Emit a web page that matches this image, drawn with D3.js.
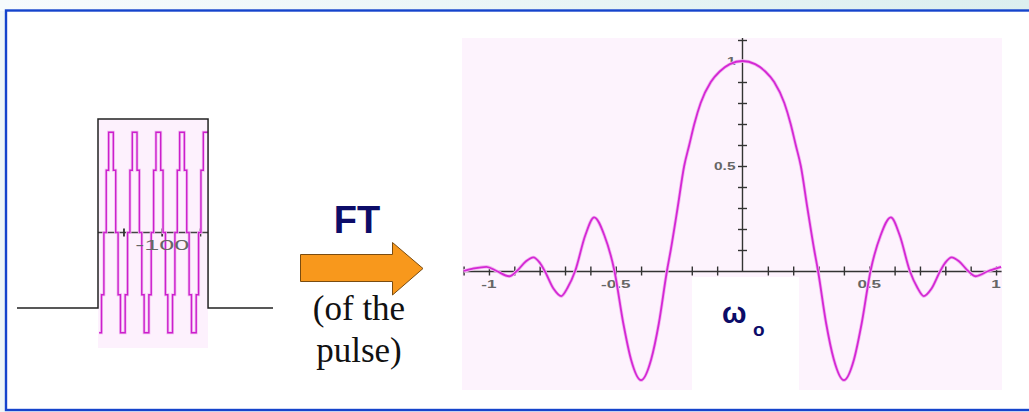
<!DOCTYPE html>
<html>
<head>
<meta charset="utf-8">
<script src="https://cdn.jsdelivr.net/npm/d3@7"></script>
<style>
  body { margin: 0; background: #eef6f8; }
  svg { display: block; }
</style>
</head>
<body>
<div id="chart"></div>
<script>
var width = 1029;
var height = 412;

// spectrum (right panel)
var specX = [-1.10, -1.06, -1.01, -0.97, -0.92, -0.89, -0.855, -0.825, -0.80, -0.78,
             -0.745, -0.715, -0.69, -0.66, -0.62, -0.585, -0.545, -0.505, -0.47, -0.44,
             -0.40, -0.36, -0.33, -0.298, -0.283, -0.256, -0.23, -0.21, -0.19, -0.165,
             -0.125, -0.09, -0.05, 0,
             0.05, 0.09, 0.125, 0.165, 0.19, 0.21, 0.23, 0.256, 0.283, 0.298,
             0.33, 0.36, 0.40, 0.44, 0.47, 0.505, 0.545, 0.585, 0.62, 0.66,
             0.69, 0.715, 0.745, 0.78, 0.80, 0.825, 0.855, 0.89, 0.92, 0.97, 0.995, 1.02];
var specY = [0.00, 0.012, 0.02, 0.00, -0.025, 0.00, 0.045, 0.065, 0.04, 0.00,
             -0.085, -0.12, -0.08, 0.00, 0.17, 0.255, 0.17, 0.00, -0.25, -0.42,
             -0.52, -0.42, -0.25, 0.00, 0.10, 0.30, 0.50, 0.60, 0.70, 0.80,
             0.90, 0.95, 0.985, 1.00,
             0.985, 0.95, 0.90, 0.80, 0.70, 0.60, 0.50, 0.30, 0.10, 0.00,
             -0.25, -0.42, -0.52, -0.42, -0.25, 0.00, 0.17, 0.255, 0.17, 0.00,
             -0.08, -0.12, -0.085, 0.00, 0.04, 0.065, 0.045, 0.00, -0.025, 0.00, 0.01, 0.02];

var xTickVals = [-1.1, -1.0, -0.9, -0.8, -0.7, -0.6, -0.5, -0.4, -0.3, -0.2, -0.1,
                 0.1, 0.2, 0.3, 0.4, 0.5, 0.6, 0.7, 0.8, 0.9, 1.0];
var xTickLabels = [-1, -0.5, 0.5, 1];
var yTickVals = [0.1, 0.2, 0.3, 0.4, 0.5, 0.6, 0.7, 0.8, 0.9, 1.0, 1.1];
var yTickLabels = [0.5, 1];

// pulse (left panel): stepped samples of the carrier inside the window
var pulseSamples = [-0.95, -0.59, 0, 0.59, 0.95, 0.95, 0.59, 0, -0.59, -0.95,
                    -0.95, -0.59, 0, 0.59, 0.95, 0.95, 0.59, 0, -0.59, -0.95,
                    -0.95, -0.59, 0, 0.59, 0.95, 0.95, 0.59, 0, -0.59, -0.95,
                    -0.95, -0.59, 0, 0.59, 0.95, 0.95, 0.59, 0, -0.59, -0.95,
                    -0.95, -0.59, 0, 0.59, 0.95, 0.95];
var pulseTime = [-290, -184, -40, 45];   // baseline start, window start, window end, baseline end
var pulseTicks = [-150, -100, -50];
var pulseTickLabel = "-100";

var svg = d3.select("#chart").append("svg")
    .attr("width", width).attr("height", height);

var defs = svg.append("defs");
var grad = defs.append("linearGradient").attr("id", "topband")
    .attr("x1", "0%").attr("x2", "100%");
grad.append("stop").attr("offset", "0%").attr("stop-color", "#f7fbfd");
grad.append("stop").attr("offset", "100%").attr("stop-color", "#dcefef");

svg.append("rect").attr("x", 0).attr("y", 0).attr("width", width).attr("height", 11)
    .attr("fill", "url(#topband)");

// slide frame
svg.append("rect")
    .attr("x", 6).attr("y", 10.5)
    .attr("width", 1060).attr("height", 399.5)
    .attr("fill", "#ffffff")
    .attr("stroke", "#1544cc")
    .attr("stroke-width", 2.4);

drawPulse();
drawArrow();
drawSpectrum();

function drawPulse() {
    var tx = d3.scaleLinear().domain([-290, 45]).range([17, 273]);
    var lv = d3.scaleLinear().domain([0, 1]).range([308, 119]);
    var sy = d3.scaleLinear().domain([-1, 1]).range([338, 127]);

    var g = svg.append("g");

    g.append("rect")
        .attr("x", tx(pulseTime[1])).attr("y", lv(1))
        .attr("width", tx(pulseTime[2]) - tx(pulseTime[1]))
        .attr("height", 348 - lv(1))
        .attr("fill", "#fdf1fd");

    // inner time axis
    g.append("line")
        .attr("x1", tx(pulseTime[1])).attr("x2", tx(pulseTime[2]))
        .attr("y1", sy(0)).attr("y2", sy(0))
        .style("stroke", "#444").style("stroke-width", 1.5);
    g.selectAll(".ptick").data(pulseTicks).enter().append("line")
        .attr("x1", function(d) { return tx(d); })
        .attr("x2", function(d) { return tx(d); })
        .attr("y1", sy(0) - 4).attr("y2", sy(0) + 4)
        .style("stroke", "#333").style("stroke-width", 1.8);

    // stepped carrier
    var n = pulseSamples.length;
    var sampleT = d3.scaleLinear().domain([0, n]).range([pulseTime[1] + 1.5, pulseTime[2]]);
    var pts = pulseSamples.map(function(v, i) { return [sampleT(i), v]; });
    pts.push([sampleT(n), pulseSamples[n - 1]]);
    var carrier = d3.line()
        .x(function(d) { return tx(d[0]); })
        .y(function(d) { return sy(d[1]); })
        .curve(d3.curveStepAfter);
    g.append("path").datum(pts).attr("d", carrier)
        .attr("fill", "none").style("stroke", "#f2bdf2").style("stroke-width", 3);
    g.append("path").datum(pts).attr("d", carrier)
        .attr("fill", "none").style("stroke", "#cc1fcc").style("stroke-width", 1.4);

    g.append("text")
        .attr("x", tx(-100)).attr("y", 250)
        .attr("text-anchor", "middle")
        .attr("textLength", 54).attr("lengthAdjust", "spacingAndGlyphs")
        .style("font-family", "Liberation Sans, Arial, sans-serif")
        .style("font-size", "14px")
        .style("fill", "#666")
        .text(pulseTickLabel);

    // rectangular window
    var env = [[pulseTime[0], 0], [pulseTime[1], 1], [pulseTime[2], 0], [pulseTime[3], 0]];
    g.append("path").datum(env)
        .attr("d", d3.line()
            .x(function(d) { return tx(d[0]); })
            .y(function(d) { return lv(d[1]); })
            .curve(d3.curveStepAfter))
        .attr("fill", "none")
        .style("stroke", "#222").style("stroke-width", 1.5);
}

function drawArrow() {
    var g = svg.append("g");
    var p = d3.path();
    p.moveTo(300.5, 254.5);
    p.lineTo(392.5, 254.5);
    p.lineTo(392.5, 242.5);
    p.lineTo(423, 268.5);
    p.lineTo(392.5, 295);
    p.lineTo(392.5, 281.5);
    p.lineTo(300.5, 281.5);
    p.closePath();
    g.append("path").attr("d", p.toString())
        .attr("fill", "#f8981c")
        .attr("stroke", "#7a4c10").attr("stroke-width", 1);

    g.append("text")
        .attr("x", 357).attr("y", 233)
        .attr("text-anchor", "middle")
        .style("font-family", "Liberation Sans, Arial, sans-serif")
        .style("font-weight", "bold")
        .style("font-size", "38px")
        .style("fill", "#0c0c68")
        .text("FT");

    var serif = "Liberation Serif, 'Times New Roman', serif";
    g.append("text")
        .attr("x", 359).attr("y", 320)
        .attr("text-anchor", "middle")
        .style("font-family", serif).style("font-size", "35px").style("fill", "#111")
        .text("(of the");
    g.append("text")
        .attr("x", 359).attr("y", 362)
        .attr("text-anchor", "middle")
        .style("font-family", serif).style("font-size", "35px").style("fill", "#111")
        .text("pulse)");
}

function drawSpectrum() {
    var x = d3.scaleLinear().domain([-1.1, 1.02]).range([463.6, 1001.1]);
    var y = d3.scaleLinear().domain([0, 1.1]).range([271, 40]);

    var g = svg.append("g");

    g.append("rect")
        .attr("x", 462).attr("y", 38)
        .attr("width", 1002 - 462).attr("height", 390 - 38)
        .attr("fill", "#fdf3fd");
    g.append("rect")
        .attr("x", 692).attr("y", 277)
        .attr("width", 107).attr("height", 114)
        .attr("fill", "#ffffff");

    var axisFont = "Liberation Sans, Arial, sans-serif";

    // x axis, ticks crossing the line
    g.append("g").attr("transform", "translate(0," + y(0) + ")")
        .call(d3.axisBottom(x).tickValues(xTickVals).tickSize(4.5).tickSizeOuter(0).tickFormat(""));
    var xt = g.append("g").attr("transform", "translate(0," + y(0) + ")")
        .call(d3.axisTop(x).tickValues(xTickVals).tickSize(4.5).tickSizeOuter(0).tickFormat(""));
    xt.select(".domain").remove();

    var yl = g.append("g").attr("transform", "translate(" + x(0) + ",0)")
        .call(d3.axisLeft(y).tickValues(yTickVals).tickSize(4.5).tickSizeOuter(0).tickFormat(""));
    var yr = g.append("g").attr("transform", "translate(" + x(0) + ",0)")
        .call(d3.axisRight(y).tickValues(yTickVals).tickSize(4.5).tickSizeOuter(0).tickFormat(""));
    yr.select(".domain").remove();
    yl.select(".domain").attr("d", "M0," + y(0) + "V" + (y(1.1) - 2));

    g.selectAll(".domain, .tick line")
        .style("stroke", "#333").style("stroke-width", 1.4);

    g.selectAll(".xlab").data(xTickLabels).enter().append("text")
        .attr("class", "xlab")
        .attr("x", function(d) { return x(d); })
        .attr("y", 288)
        .attr("text-anchor", "middle")
        .style("font-family", axisFont).style("font-size", "11px")
        .style("font-weight", "bold").style("fill", "#666")
        .text(function(d) { return d; })
        .attr("textLength", function() { return this.getComputedTextLength() * 1.55; })
        .attr("lengthAdjust", "spacingAndGlyphs");

    g.selectAll(".ylab").data(yTickLabels).enter().append("text")
        .attr("class", "ylab")
        .attr("x", x(0) - 7)
        .attr("y", function(d) { return y(d) + 4; })
        .attr("text-anchor", "end")
        .style("font-family", axisFont).style("font-size", "11px")
        .style("font-weight", "bold").style("fill", "#666")
        .text(function(d) { return d; })
        .attr("textLength", function() { return this.getComputedTextLength() * 1.4; })
        .attr("lengthAdjust", "spacingAndGlyphs");

    var pts = specX.map(function(v, i) { return [v, specY[i]]; });
    var line = d3.line()
        .x(function(d) { return x(d[0]); })
        .y(function(d) { return y(d[1]); })
        .curve(d3.curveMonotoneX);
    g.append("path").datum(pts).attr("d", line)
        .attr("fill", "none")
        .style("stroke", "#f2b6f2").style("stroke-width", 3.4);
    g.append("path").datum(pts).attr("d", line)
        .attr("fill", "none")
        .style("stroke", "#d428d4").style("stroke-width", 1.8);

    var lab = g.append("text")
        .attr("x", 722).attr("y", 323)
        .style("font-family", "Liberation Sans, Arial, sans-serif")
        .style("font-weight", "bold")
        .style("fill", "#0c0c68");
    lab.append("tspan").style("font-size", "29px").text("ω");
    lab.append("tspan").attr("x", 753).attr("y", 336).style("font-size", "19px").text("o");
}
</script>
</body>
</html>
